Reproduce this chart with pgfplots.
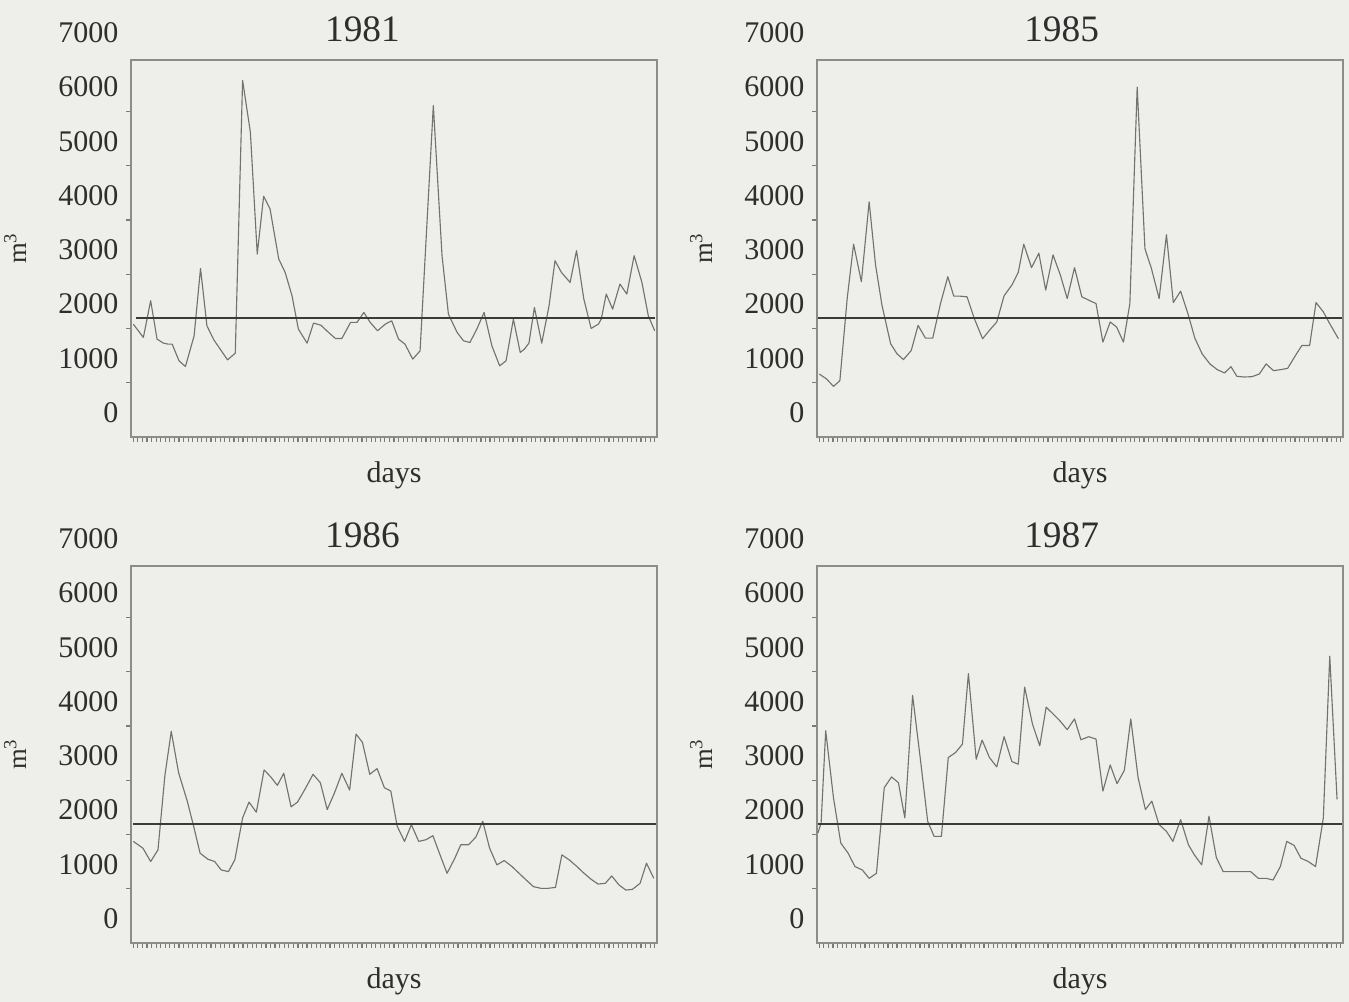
\documentclass[border=0pt]{standalone}
\usepackage{fontspec}
\setmainfont{Liberation Serif}
\usepackage{pgfplots}
\pgfplotsset{compat=1.18}

\definecolor{paper}{HTML}{EEEEEA}
\definecolor{framec}{HTML}{8C8C8A}
\definecolor{tickc}{HTML}{7A7A78}
\definecolor{seriesc}{HTML}{727270}
\definecolor{meanc}{HTML}{3A3A3A}
\definecolor{txt}{HTML}{2E2E2E}

\newcommand{\labfont}{\fontsize{22.5}{27}\selectfont}
\newcommand{\ttlfont}{\fontsize{28}{32}\selectfont}

\pgfplotsset{
  panel/.style={
    scale only axis, width=394.5pt, height=282.75pt,
    anchor=south west, clip=false,
    xmin=0.5, xmax=115.5, ymin=-450, ymax=6500,
    xtick={1000}, minor xtick={1,...,115},
    ytick={0,1000,...,6000}, minor ytick={550,1550,...,5550},
    tick pos=left, tick align=outside,
    major tick length=0pt, minor tick length=3.4pt,
    minor tick style={draw=tickc, line width=0.9pt},
    axis line style={draw=framec, line width=1.1pt},
    /pgf/number format/1000 sep={},
    /pgf/number format/assume math mode=true,
    tick label style={font=\labfont, text=txt},
    yticklabel style={xshift=-6pt},
    xlabel=days,
    xlabel style={at={(axis description cs:0.5,-0.12)}, anchor=base, font=\labfont, text=txt},
    ylabel={m\textsuperscript{3}},
    ylabel style={at={(axis description cs:-0.22,0.5)}, anchor=center, rotate=0, font=\fontsize{20}{24}\selectfont, text=txt},
    title style={anchor=base, yshift=-6pt, font=\ttlfont, text=txt},
  },
  flow/.style={draw=seriesc, line width=0.85pt, line join=round, mark=none},
  meanline/.style={draw=meanc, line width=1.6pt, mark=none},
}

% label for the 7000 level, which lies above the plotting frame
\newcommand{\topvalue}{\node[anchor=east, font=\labfont, text=txt, xshift=-6pt] at (axis cs:0.5,7000) {7000};}

\begin{document}
\begin{tikzpicture}
\fill[paper] (0,0) rectangle (1011.75pt,751.5pt);

% ---------------- 1981 ----------------
\begin{axis}[panel, at={(98.25pt,423.75pt)}, title=1981,
  title style={at={(axis description cs:0.44,1.048)}}]
\addplot[flow] coordinates {
(1.0,1631) (3.2,1385) (4.8,2062) (6.2,1354) (7.6,1280) (8.6,1262) (9.5,1262)
(11.0,954) (12.4,849) (14.3,1415) (15.7,2658) (17.1,1600) (18.6,1342) (20.0,1169)
(21.6,972) (23.3,1095) (24.9,6123) (26.6,5169) (28.1,2923) (29.5,3988) (30.9,3754)
(32.8,2831) (34.2,2585) (35.7,2154) (37.1,1538) (39.0,1280) (40.4,1649) (42.0,1612)
(43.7,1477) (45.2,1366) (46.6,1366) (48.5,1662) (49.9,1662) (51.4,1846) (52.8,1662)
(54.4,1508) (56.1,1631) (57.5,1692) (59.0,1354) (60.4,1262) (62.1,985) (63.7,1138)
(66.6,5662) (68.5,2892) (69.9,1815) (71.8,1477) (73.2,1323) (74.6,1292) (76.1,1538)
(77.7,1846) (79.4,1231) (81.1,862) (82.5,954) (84.1,1723) (85.6,1108) (86.5,1169)
(87.5,1280) (88.7,1938) (90.3,1280) (91.9,1969) (93.2,2800) (94.6,2585) (96.5,2400)
(97.9,2985) (99.5,2092) (101.1,1551) (102.7,1631) (103.3,1723) (104.4,2185) (105.8,1908)
(107.4,2369) (108.9,2185) (110.5,2892) (112.2,2400) (113.6,1785) (115.0,1508)
};
\addplot[meanline] coordinates {(1.5,1750) (115,1750)};
\topvalue
\end{axis}

% ---------------- 1985 ----------------
\begin{axis}[panel, at={(612.75pt,423.75pt)}, title=1985,
  title style={at={(axis description cs:0.465,1.048)}}]
\addplot[flow] coordinates {
(1.0,711) (2.6,619) (4.1,483) (5.5,588) (7.1,2103) (8.5,3105) (10.2,2413) (11.9,3885)
(13.3,2722) (14.7,1980) (16.6,1268) (18.0,1083) (19.4,977) (21.1,1144) (22.6,1608)
(24.2,1373) (25.8,1373) (27.5,2010) (29.1,2505) (30.4,2147) (31.7,2147) (33.3,2134)
(34.9,1732) (36.7,1361) (38.2,1516) (39.8,1670) (41.4,2153) (43.1,2351) (44.5,2586)
(45.7,3105) (47.4,2672) (49.0,2938) (50.5,2258) (52.1,2907) (53.7,2536) (55.2,2103)
(56.8,2672) (58.4,2134) (59.9,2072) (61.5,2010) (63.0,1299) (64.6,1670) (66.0,1577)
(67.5,1299) (68.9,2010) (70.5,6000) (72.2,3019) (73.6,2660) (75.3,2103) (76.9,3279)
(78.4,2029) (80.0,2239) (81.7,1794) (83.1,1373) (84.7,1083) (86.4,897) (88.0,792)
(89.6,730) (91.0,847) (92.3,668) (93.9,656) (95.6,662) (97.2,711) (98.7,897)
(100.3,773) (101.9,792) (103.4,816) (105.1,1052) (106.5,1237) (108.2,1237) (109.6,2029)
(111.2,1856) (112.6,1639) (114.5,1361)
};
\addplot[meanline] coordinates {(0.7,1750) (115.2,1750)};
\topvalue
\end{axis}

% ---------------- 1986 ----------------
\begin{axis}[panel, at={(98.25pt,44.25pt)}, title=1986,
  title style={at={(axis description cs:0.44,1.048)}}]
\addplot[flow] coordinates {
(1.0,1423) (3.1,1299) (4.8,1052) (6.4,1268) (7.9,2629) (9.3,3452) (10.9,2691)
(12.8,2165) (14.2,1701) (15.6,1206) (17.3,1095) (18.8,1052) (20.2,897) (21.8,866)
(23.2,1083) (24.9,1856) (26.3,2147) (27.9,1961) (29.6,2741) (31.0,2617) (32.5,2456)
(33.9,2679) (35.5,2060) (36.9,2147) (38.6,2394) (40.3,2660) (41.9,2505) (43.4,2010)
(45.0,2320) (46.6,2679) (48.3,2369) (49.7,3402) (51.1,3248) (52.7,2660) (54.3,2765)
(55.9,2413) (57.3,2351) (58.7,1701) (60.3,1423) (61.8,1732) (63.4,1423) (65.0,1454)
(66.5,1528) (68.2,1144) (69.6,835) (71.3,1113) (72.6,1361) (74.3,1361) (75.9,1503)
(77.4,1794) (78.9,1299) (80.5,990) (82.1,1070) (83.8,959) (85.5,823) (86.9,711)
(88.5,588) (90.2,557) (91.6,557) (93.3,575) (94.7,1175) (96.3,1083) (98.0,959)
(99.4,847) (101.1,724) (102.6,637) (104.2,650) (105.6,786) (107.2,619) (108.7,526)
(110.1,538) (111.8,650) (113.2,1021) (114.8,742)
};
\addplot[meanline] coordinates {(1.0,1750) (115.2,1750)};
\topvalue
\end{axis}

% ---------------- 1987 ----------------
\begin{axis}[panel, at={(612.75pt,44.25pt)}, title=1987,
  title style={at={(axis description cs:0.465,1.048)}}]
\addplot[flow] coordinates {
(0.7,1577) (1.4,1763) (2.4,3464) (4.1,2227) (5.7,1392) (7.3,1206) (8.8,959)
(10.4,897) (11.9,742) (13.5,835) (15.2,2413) (16.8,2611) (18.3,2505) (19.7,1856)
(21.4,4114) (23.1,2938) (24.7,1794) (26.1,1516) (27.7,1516) (29.2,2969) (30.8,3062)
(32.3,3217) (33.6,4516) (35.3,2938) (36.6,3291) (38.2,2969) (39.8,2796) (41.4,3353)
(43.1,2895) (44.5,2846) (45.9,4268) (47.6,3588) (49.2,3186) (50.6,3897) (52.1,3773)
(53.7,3637) (55.2,3483) (56.8,3681) (58.2,3297) (59.9,3353) (61.5,3309) (63.0,2351)
(64.6,2833) (66.1,2487) (67.7,2734) (69.1,3681) (70.7,2598) (72.3,2010) (73.7,2165)
(75.3,1732) (76.9,1608) (78.3,1423) (80.0,1825) (81.7,1361) (83.0,1175) (84.6,990)
(86.2,1887) (87.8,1126) (89.3,866) (90.9,866) (92.3,866) (93.9,866) (95.3,866)
(97.0,742) (98.7,742) (100.2,711) (101.8,959) (103.2,1423) (104.8,1349) (106.3,1113)
(107.9,1052) (109.5,959) (111.2,1856) (112.6,4838) (114.2,2196)
};
\addplot[meanline] coordinates {(0.7,1750) (115.2,1750)};
\topvalue
\end{axis}

\pgfresetboundingbox
\useasboundingbox (0,0) rectangle (1011.75pt,751.5pt);
\end{tikzpicture}
\end{document}
